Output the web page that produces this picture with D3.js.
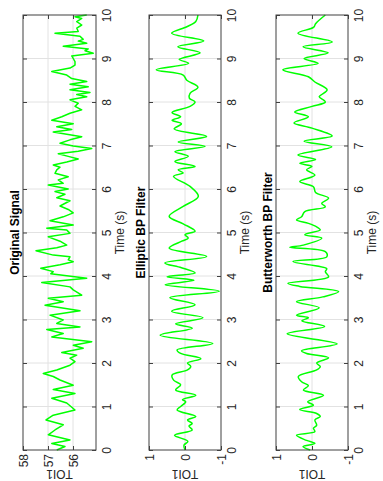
<!DOCTYPE html>
<html>
<head>
<meta charset="utf-8">
<script src="https://cdn.jsdelivr.net/npm/d3@7"></script>
<style>
  html, body { margin: 0; padding: 0; background: #fff; }
  svg { display: block; font-family: "Liberation Sans", Arial, Helvetica, sans-serif; }
</style>
</head>
<body>
<div id="chart"></div>
<script>
// ---------------- DATA ----------------
const timeTicks = [0,1,2,3,4,5,6,7,8,9,10];
const origTicks = [58, 57, 56];
const filtTicks = [1, 0, -1];

const origTime = [0.00,0.08,0.15,0.23,0.35,0.46,0.58,0.69,0.80,0.92,1.08,1.19,1.30,1.39,1.49,1.61,1.69,1.76,1.84,1.95,
  2.03,2.11,2.18,2.24,2.34,2.41,2.49,2.60,2.68,2.77,2.83,2.91,2.99,3.10,3.20,3.33,3.41,3.49,3.56,3.68,
  3.75,3.85,3.95,4.05,4.10,4.18,4.26,4.33,4.37,4.44,4.48,4.58,4.65,4.71,4.80,4.90,4.98,5.06,5.10,5.17,
  5.27,5.36,5.45,5.53,5.61,5.73,5.80,5.88,5.94,6.00,6.09,6.13,6.21,6.28,6.36,6.44,6.50,6.55,6.62,6.69,
  6.75,6.81,6.87,6.93,6.99,7.05,7.13,7.20,7.31,7.37,7.43,7.50,7.58,7.66,7.74,7.82,7.90,7.97,8.05,8.12,
  8.17,8.22,8.28,8.35,8.41,8.47,8.54,8.62,8.70,8.78,8.85,8.93,9.00,9.06,9.12,9.18,9.22,9.28,9.35,9.40,
  9.44,9.51,9.58,9.62,9.70,9.77,9.85,9.92,9.96,10.0];
const origValue = [56.65,56.32,56.85,56.12,56.99,56.72,56.39,57.08,56.79,55.92,56.25,56.85,55.92,56.79,55.99,56.52,56.79,57.19,56.65,56.12,
  55.92,56.12,55.85,56.45,55.59,55.99,55.25,56.85,56.39,57.05,55.72,56.65,56.39,56.92,55.72,57.12,56.39,56.99,55.65,55.99,
  56.12,57.25,55.45,56.89,56.79,57.29,56.52,55.99,56.19,56.12,56.79,57.48,56.65,56.25,56.52,56.99,56.12,56.25,57.05,55.99,
  56.92,56.39,55.99,56.19,56.52,56.12,56.65,56.32,56.72,56.19,56.99,56.39,56.59,56.19,56.72,56.65,56.52,56.79,56.25,55.79,
  56.19,56.59,55.79,55.25,55.99,56.52,56.12,55.65,56.79,56.05,56.65,55.99,56.85,56.45,56.12,55.65,55.92,55.79,56.12,55.45,
  55.85,55.32,56.12,55.39,56.12,55.45,56.05,56.25,56.85,56.12,55.92,55.92,55.99,56.05,55.19,55.52,55.39,56.39,55.45,55.79,
  55.59,55.72,56.72,55.79,55.85,55.65,55.85,55.65,55.92,55.45];

const ellTime = [0.00,0.11,0.20,0.34,0.46,0.55,0.61,0.69,0.77,0.92,1.00,1.11,1.16,1.26,1.38,1.50,1.60,1.72,1.84,1.92,
  2.00,2.10,2.22,2.30,2.45,2.64,2.80,2.90,3.04,3.19,3.34,3.50,3.65,3.80,3.90,3.98,4.07,4.19,4.30,4.45,
  4.64,4.80,4.87,4.95,5.03,5.20,5.37,5.60,5.83,6.06,6.29,6.37,6.44,6.52,6.63,6.75,6.86,6.98,7.08,7.21,
  7.38,7.50,7.58,7.66,7.76,7.90,8.00,8.09,8.20,8.34,8.50,8.62,8.74,8.89,8.98,9.13,9.27,9.40,9.58,9.73,
  9.85,10.0];
const ellValue = [0.00,0.03,-0.08,0.29,-0.20,-0.11,-0.20,-0.07,-0.30,0.22,0.12,-0.02,0.07,-0.30,0.26,0.12,0.31,0.36,-0.07,-0.16,
  -0.07,-0.44,0.12,0.22,-0.77,0.69,-0.20,0.26,-0.50,0.37,-0.28,0.42,-0.95,0.55,-0.25,0.50,-0.28,0.10,0.56,-0.60,
  0.44,0.09,-0.09,0.00,-0.28,0.05,0.44,0.05,-0.37,-0.14,0.32,0.05,0.19,-0.28,0.28,-0.09,0.28,-0.56,0.19,-0.60,
  0.30,0.10,0.36,0.12,0.36,-0.14,-0.28,-0.12,-0.14,-0.36,-0.05,0.05,0.80,-0.10,0.16,-0.42,0.20,-0.52,0.37,-0.05,
  -0.30,-0.36];

const butTime = [0.00,0.08,0.15,0.22,0.34,0.42,0.50,0.57,0.69,0.77,0.84,0.93,1.03,1.11,1.26,1.38,1.48,1.57,1.69,1.84,
  1.92,2.00,2.12,2.22,2.28,2.44,2.67,2.84,2.97,3.04,3.10,3.27,3.41,3.52,3.64,3.76,3.83,3.98,4.10,4.17,
  4.33,4.44,4.56,4.66,4.71,4.87,4.95,5.06,5.13,5.21,5.29,5.36,5.48,5.59,5.67,5.79,5.92,6.05,6.17,6.32,
  6.44,6.52,6.59,6.68,6.78,6.97,7.10,7.22,7.40,7.52,7.66,7.77,7.90,8.00,8.12,8.16,8.28,8.46,8.58,8.74,
  8.89,9.00,9.13,9.27,9.38,9.58,9.72,9.80,10.0];
const butValue = [0.05,0.25,-0.08,0.15,0.43,-0.08,-0.04,-0.13,-0.08,-0.23,-0.13,0.34,-0.04,0.12,-0.32,0.24,0.10,0.29,0.38,-0.13,
  -0.23,-0.13,-0.46,0.15,0.29,-0.70,0.69,-0.35,0.28,0.10,0.43,-0.20,0.43,-0.30,-0.74,0.34,0.67,-0.46,-0.37,-0.41,
  0.53,-0.41,-0.37,0.62,0.24,-0.27,0.20,-0.23,-0.13,0.10,0.43,0.29,0.20,-0.37,-0.27,-0.46,-0.10,-0.04,0.34,-0.08,
  0.15,0.00,0.34,-0.10,0.39,-0.55,0.22,-0.56,0.00,0.50,0.10,0.48,0.00,-0.37,-0.20,-0.25,-0.42,-0.08,0.10,0.81,
  -0.17,0.22,-0.45,0.25,-0.56,0.39,-0.05,-0.10,-0.37];

// ---------------- LAYOUT ----------------
const W = 383, H = 481;
const yTop = 15, yBottom = 450;
const panels = [
  { title: "Original Signal", time: origTime, value: origValue, domain: [55.08, 58], ticks: origTicks, x0: 23, x1: 96, curve: d3.curveLinear },
  { title: "Elliptic BP Filter", time: ellTime, value: ellValue, domain: [-1, 1], ticks: filtTicks, x0: 149, x1: 221, curve: d3.curveCatmullRom },
  { title: "Butterworth BP Filter", time: butTime, value: butValue, domain: [-1, 1], ticks: filtTicks, x0: 276, x1: 348, curve: d3.curveCatmullRom }
];

const svg = d3.select("#chart").append("svg").attr("width", W).attr("height", H);
const y = d3.scaleLinear().domain([0, 10]).range([yBottom, yTop]);
const fontSize = 12;
const fmt = d => String(d);

panels.forEach(p => {
  const x = d3.scaleLinear().domain(p.domain).range([p.x1, p.x0]);
  const g = svg.append("g");

  // grid
  g.append("g").selectAll("line").data(timeTicks.slice(1, -1)).join("line")
    .attr("x1", p.x0).attr("x2", p.x1).attr("y1", d => y(d)).attr("y2", d => y(d))
    .attr("stroke", "#e2e2e2").attr("stroke-width", 1);
  g.append("g").selectAll("line").data(p.ticks.filter(v => x(v) > p.x0 + 1 && x(v) < p.x1 - 1)).join("line")
    .attr("x1", d => x(d)).attr("x2", d => x(d)).attr("y1", yTop).attr("y2", yBottom)
    .attr("stroke", "#e2e2e2").attr("stroke-width", 1);

  // data line
  const line = d3.line().x(d => x(d[1])).y(d => y(d[0])).curve(p.curve);
  const pts = p.time.map((t, i) => [t, p.value[i]]);
  g.append("path").datum(pts).attr("d", line)
    .attr("fill", "none").attr("stroke", "#00ff00").attr("stroke-width", 1.5)
    .attr("stroke-linejoin", "round");

  // axes (ticks inward)
  const axR = g.append("g").attr("transform", `translate(${p.x1},0)`)
    .call(d3.axisRight(y).tickValues(timeTicks).tickSizeInner(-4).tickSizeOuter(0).tickPadding(0).tickFormat(fmt));
  axR.selectAll("text").attr("x", 0).attr("dy", null)
    .attr("transform", "translate(11,0) rotate(-90)")
    .attr("text-anchor", "middle").attr("dominant-baseline", "central")
    .attr("font-size", fontSize).attr("fill", "#262626");
  const axL = g.append("g").attr("transform", `translate(${p.x0},0)`)
    .call(d3.axisLeft(y).tickValues(timeTicks).tickSizeInner(-4).tickSizeOuter(0).tickFormat(""));
  const axB = g.append("g").attr("transform", `translate(0,${yBottom})`)
    .call(d3.axisBottom(x).tickValues(p.ticks).tickSizeInner(-4).tickSizeOuter(0).tickPadding(0).tickFormat(fmt));
  axB.selectAll("text").attr("y", 0).attr("dy", null)
    .attr("transform", "translate(0,4) rotate(-90)")
    .attr("text-anchor", "end").attr("dominant-baseline", "central")
    .attr("font-size", fontSize).attr("fill", "#262626");
  const axT = g.append("g").attr("transform", `translate(0,${yTop})`)
    .call(d3.axisTop(x).tickValues(p.ticks).tickSizeInner(-4).tickSizeOuter(0).tickFormat(""));
  [axR, axL, axB, axT].forEach(a => {
    a.attr("font-family", null);
    a.select(".domain").remove();
    a.selectAll("line").attr("stroke", "#404040");
  });

  // box
  g.append("rect").attr("x", p.x0).attr("y", yTop).attr("width", p.x1 - p.x0).attr("height", yBottom - yTop)
    .attr("fill", "none").attr("stroke", "#404040").attr("stroke-width", 1);

  const cy = (yTop + yBottom) / 2;
  g.append("text").attr("transform", `translate(${p.x0 - 8},${cy}) rotate(-90)`)
    .attr("text-anchor", "middle").attr("dominant-baseline", "central")
    .attr("font-size", fontSize).attr("font-weight", "bold").attr("fill", "#000").text(p.title);
  g.append("text").attr("transform", `translate(${p.x1 + 24},${cy}) rotate(-90)`)
    .attr("text-anchor", "middle").attr("dominant-baseline", "central")
    .attr("font-size", fontSize).attr("fill", "#262626").text("Time (s)");
  g.append("text").attr("transform", `translate(${(p.x0 + p.x1) / 2},474) rotate(180)`)
    .attr("text-anchor", "middle").attr("dominant-baseline", "central")
    .attr("font-size", fontSize).attr("fill", "#262626").text("TOI1");
});
</script>
</body>
</html>
